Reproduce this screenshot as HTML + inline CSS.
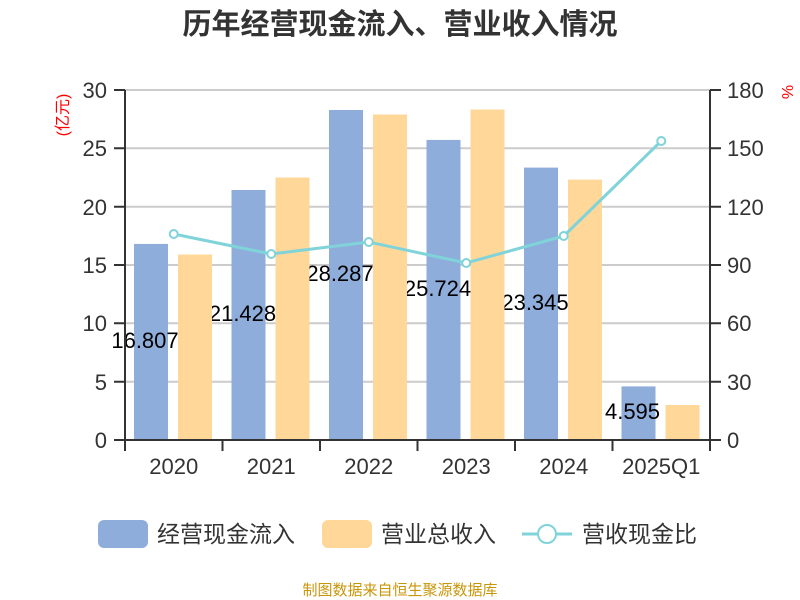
<!DOCTYPE html>
<html><head><meta charset="utf-8"><style>body{margin:0;background:#fff}svg{display:block}text{font-family:"Liberation Sans","Noto Sans CJK SC",sans-serif}</style></head><body>
<svg width="800" height="600" viewBox="0 0 800 600" xmlns="http://www.w3.org/2000/svg">
<text x="400" y="34" text-anchor="middle" font-size="29" font-weight="bold" fill="#333">历年经营现金流入、营业收入情况</text>
<g stroke="#ccc" stroke-width="2">
<line x1="125" y1="90" x2="710" y2="90"/><line x1="125" y1="148.3" x2="710" y2="148.3"/><line x1="125" y1="206.7" x2="710" y2="206.7"/><line x1="125" y1="265" x2="710" y2="265"/><line x1="125" y1="323.3" x2="710" y2="323.3"/><line x1="125" y1="381.7" x2="710" y2="381.7"/>
</g>
<g font-size="22" fill="#333" text-anchor="end">
<text x="107" y="98">30</text><text x="107" y="156">25</text><text x="107" y="215">20</text><text x="107" y="273">15</text><text x="107" y="331">10</text><text x="107" y="390">5</text><text x="107" y="448">0</text>
</g>
<g font-size="22" fill="#333" text-anchor="start">
<text x="727" y="98">180</text><text x="727" y="156">150</text><text x="727" y="215">120</text><text x="727" y="273">90</text><text x="727" y="331">60</text><text x="727" y="390">30</text><text x="727" y="448">0</text>
</g>
<text transform="translate(68,115) rotate(-90)" font-size="16" fill="#f00" text-anchor="middle">(亿元)</text>
<text transform="translate(782,92) rotate(90)" font-size="16" fill="#f00" text-anchor="middle">%</text>
<g fill="#8eaddb">
<rect x="134" y="243.9" width="34" height="196.1"/>
<rect x="231.5" y="190" width="34" height="250"/>
<rect x="329" y="110" width="34" height="330"/>
<rect x="426.5" y="139.9" width="34" height="300.1"/>
<rect x="524" y="167.6" width="34" height="272.4"/>
<rect x="621.5" y="386.4" width="34" height="53.6"/>
</g>
<g font-size="22" fill="#000" text-anchor="middle">
<text x="145" y="348">16.807</text><text x="242.5" y="321">21.428</text><text x="340" y="281">28.287</text><text x="437.5" y="296">25.724</text><text x="535" y="310">23.345</text><text x="632.5" y="419">4.595</text>
</g>
<g fill="#ffd899">
<rect x="178" y="254.5" width="34" height="185.5"/>
<rect x="275.5" y="177.5" width="34" height="262.5"/>
<rect x="373" y="114.5" width="34" height="325.5"/>
<rect x="470.5" y="109.5" width="34" height="330.5"/>
<rect x="568" y="179.6" width="34" height="260.4"/>
<rect x="665.5" y="405" width="34" height="35"/>
</g>
<g stroke="#333" stroke-width="2" fill="none">
<line x1="125" y1="90" x2="125" y2="441"/><line x1="710" y1="90" x2="710" y2="441"/><line x1="124" y1="440" x2="711" y2="440"/>
<path d="M114 90H125M114 148.3H125M114 206.7H125M114 265H125M114 323.3H125M114 381.7H125M114 440H125"/>
<path d="M710 90H721M710 148.3H721M710 206.7H721M710 265H721M710 323.3H721M710 381.7H721M710 440H721"/>
<path d="M125 440V451M222.5 440V451M320 440V451M417.5 440V451M515 440V451M612.5 440V451M710 440V451"/>
</g>
<g font-size="22" fill="#333" text-anchor="middle">
<text x="173.75" y="474">2020</text><text x="271.25" y="474">2021</text><text x="368.75" y="474">2022</text><text x="466.25" y="474">2023</text><text x="563.75" y="474">2024</text><text x="661.25" y="474">2025Q1</text>
</g>
<polyline points="173.75,234 271.25,254 368.75,242 466.25,263 563.75,236 661.25,141" fill="none" stroke="#7fd3d9" stroke-width="3"/>
<g fill="#fff" stroke="#7fd3d9" stroke-width="2">
<circle cx="173.75" cy="234" r="4"/><circle cx="271.25" cy="254" r="4"/><circle cx="368.75" cy="242" r="4"/><circle cx="466.25" cy="263" r="4"/><circle cx="563.75" cy="236" r="4"/><circle cx="661.25" cy="141" r="4"/>
</g>
<rect x="98" y="520" width="50" height="28" rx="6" fill="#8eaddb"/>
<text x="157" y="542" font-size="23" fill="#333">经营现金流入</text>
<rect x="322" y="520" width="50" height="28" rx="6" fill="#ffd899"/>
<text x="381" y="542" font-size="23" fill="#333">营业总收入</text>
<line x1="522" y1="534" x2="572" y2="534" stroke="#7fd3d9" stroke-width="3"/>
<circle cx="547" cy="534" r="9" fill="#fff" stroke="#7fd3d9" stroke-width="2"/>
<text x="582" y="542" font-size="23" fill="#333">营收现金比</text>
<text x="400" y="595" text-anchor="middle" font-size="15" fill="#c8960a">制图数据来自恒生聚源数据库</text>
</svg>
</body></html>
